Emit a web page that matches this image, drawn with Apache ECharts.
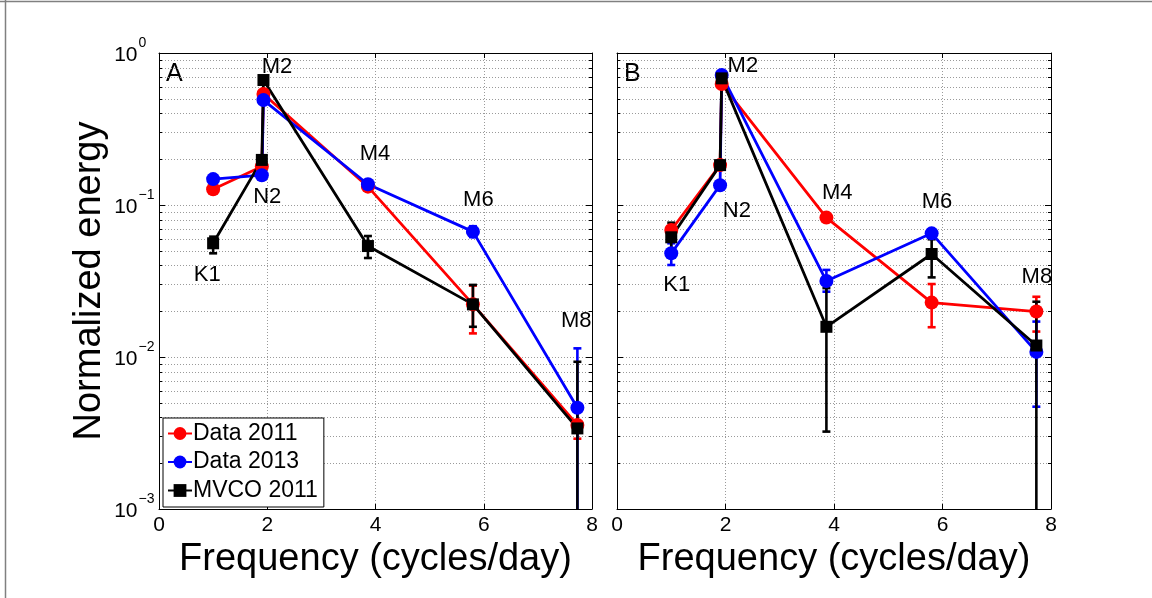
<!DOCTYPE html>
<html><head><meta charset="utf-8">
<script src="https://cdn.jsdelivr.net/npm/echarts@6/dist/echarts.min.js"></script>
<style>html,body{margin:0;padding:0;background:#fff}#c{width:1152px;height:598px}</style>
</head><body><div id="c"></div>
<script>
// ---------- data ----------
const constituents = ['K1', 'N2', 'M2', 'M4', 'M6', 'M8'];
const freq = [1.00, 1.90, 1.93, 3.86, 5.80, 7.73];
const xTicks = [0, 2, 4, 6, 8];
const yTicks = [0.001, 0.01, 0.1, 1];
const yTickExp = ['\u22123', '\u22122', '\u22121', '0'];
const seriesNames = ['Data 2011', 'Data 2013', 'MVCO 2011'];

// Panel A
const aData2011 = [0.127, 0.179, 0.537, 0.132, 0.0222, 0.00357];
const aData2011Lo = [0.121, 0.172, 0.515, 0.126, 0.0143, 0.0029];
const aData2011Hi = [0.133, 0.186, 0.560, 0.138, 0.0295, 0.0044];
const aData2013 = [0.148, 0.157, 0.490, 0.137, 0.0668, 0.00464];
const aData2013Lo = [0.142, 0.151, 0.470, 0.132, 0.0615, 0.0004];
const aData2013Hi = [0.154, 0.163, 0.510, 0.142, 0.0725, 0.0114];
const aMvco2011 = [0.056, 0.198, 0.664, 0.0537, 0.0222, 0.00339];
const aMvco2011Lo = [0.0481, 0.190, 0.640, 0.0448, 0.0158, 0.0004];
const aMvco2011Hi = [0.0619, 0.206, 0.690, 0.0625, 0.0298, 0.0093];

// Panel B
const bData2011 = [0.0685, 0.183, 0.625, 0.0826, 0.0228, 0.0199];
const bData2011Lo = [0.065, 0.176, 0.600, 0.079, 0.0157, 0.0147];
const bData2011Hi = [0.072, 0.190, 0.650, 0.086, 0.0302, 0.0249];
const bData2013 = [0.0481, 0.135, 0.717, 0.0316, 0.0651, 0.0108];
const bData2013Lo = [0.0403, 0.130, 0.690, 0.0269, 0.0610, 0.00471];
const bData2013Hi = [0.0560, 0.140, 0.740, 0.0374, 0.0690, 0.0171];
const bMvco2011 = [0.0613, 0.183, 0.681, 0.0158, 0.0476, 0.0119];
const bMvco2011Lo = [0.0457, 0.176, 0.660, 0.00323, 0.0334, 0.0004];
const bMvco2011Hi = [0.0765, 0.190, 0.700, 0.0284, 0.0595, 0.0231];

// constituent label positions [freq, energy] per panel
const aLabelX = [0.89, 2.00, 2.18, 3.99, 5.90, 7.71];
const aLabelY = [0.0346, 0.113, 0.81, 0.217, 0.108, 0.01725];
const bLabelX = [1.10, 2.21, 2.32, 4.06, 5.90, 7.74];
const bLabelY = [0.0298, 0.0912, 0.82, 0.120, 0.1047, 0.0336];

// ---------- styling ----------
const Y_MIN = 0.001, Y_MAX = 1;
const colors = ['#ff0000', '#0000ff', '#000000'];
const symbols = ['circle', 'circle', 'rect'];
const symbolSizes = [14, 14, 12];
const FONT = '"Liberation Sans", Arial, Helvetica, sans-serif';
const minorVals = [];
for (let k = -3; k < 0; k++) for (let m = 2; m <= 9; m++) minorVals.push(m * Math.pow(10, k));

function pair(xs, ys) { return xs.map((x, i) => [x, ys[i]]); }
function triple(xs, lo, hi) { return xs.map((x, i) => [x, lo[i], hi[i]]); }

function errRender(color) {
  return function (params, api) {
    const x = api.value(0), lo = api.value(1), hi = api.value(2);
    const pHi = api.coord([x, hi]);
    const pLo = api.coord([x, Math.max(lo, Y_MIN)]);
    const cw = 4;
    const st = { stroke: color, lineWidth: 2.6 };
    const ch = [
      { type: 'line', shape: { x1: pHi[0], y1: pHi[1], x2: pLo[0], y2: pLo[1] }, style: st },
      { type: 'line', shape: { x1: pHi[0] - cw, y1: pHi[1], x2: pHi[0] + cw, y2: pHi[1] }, style: st }
    ];
    if (lo >= Y_MIN) ch.push({ type: 'line', shape: { x1: pLo[0] - cw, y1: pLo[1], x2: pLo[0] + cw, y2: pLo[1] }, style: st });
    return { type: 'group', children: ch };
  };
}

function minorRender(params, api) {
  const cs = params.coordSys;
  const y = Math.round(api.coord([0, api.value(1)])[1]) + 0.5;
  return { type: 'group', children: [
    { type: 'line', shape: { x1: cs.x, y1: y, x2: cs.x + cs.width, y2: y }, style: { stroke: '#9a9a9a', lineWidth: 1, lineDash: [1, 2] } },
    { type: 'line', shape: { x1: cs.x, y1: y, x2: cs.x + 3, y2: y }, style: { stroke: '#000', lineWidth: 1 } },
    { type: 'line', shape: { x1: cs.x + cs.width - 3, y1: y, x2: cs.x + cs.width, y2: y }, style: { stroke: '#000', lineWidth: 1 } }
  ] };
}

function panelSeries(xi, yi, vals, los, his) {
  const out = [];
  out.push({
    type: 'custom', xAxisIndex: xi, yAxisIndex: yi, silent: true, z: 1,
    renderItem: minorRender, data: minorVals.map(v => [0, v]), clip: false
  });
  for (let s = 0; s < 3; s++) {
    out.push({
      type: 'custom', xAxisIndex: xi, yAxisIndex: yi, silent: true,
      renderItem: errRender(colors[s]), data: triple(freq, los[s], his[s]), clip: true,
      encode: { x: 0, y: [1, 2] }
    });
    out.push({
      type: 'line', name: seriesNames[s], xAxisIndex: xi, yAxisIndex: yi,
      data: pair(freq, vals[s]), symbol: symbols[s], symbolSize: symbolSizes[s],
      itemStyle: { color: colors[s] }, lineStyle: { color: colors[s], width: 2.8 },
      showSymbol: true, animation: false
    });
  }
  return out;
}

function xAx(gi, pos, showLabel, name) {
  return {
    type: 'value', gridIndex: gi, position: pos, min: 0, max: 8, interval: 2,
    axisLine: { show: true, onZero: false, lineStyle: { color: '#000', width: 1 } },
    axisTick: { show: true, inside: true, length: 5, lineStyle: { color: '#000' } },
    axisLabel: { show: showLabel, color: '#000', fontSize: 21, fontFamily: FONT, margin: 6 },
    splitLine: { show: pos === 'bottom', lineStyle: { color: '#9a9a9a', type: [1, 2] } },
    name: name || '', nameLocation: 'middle', nameGap: 25,
    nameTextStyle: { color: '#000', fontSize: 38, fontFamily: FONT }
  };
}
function yAx(gi, pos, name) {
  return {
    type: 'log', logBase: 10, gridIndex: gi, position: pos, min: Y_MIN, max: Y_MAX,
    axisLine: { show: true, onZero: false, lineStyle: { color: '#000', width: 1 } },
    axisTick: { show: true, inside: true, length: 6, lineStyle: { color: '#000' } },
    axisLabel: { show: false },
    splitLine: { show: pos === 'left', lineStyle: { color: '#9a9a9a', type: [1, 2] } },
    name: name || '', nameLocation: 'middle', nameGap: 50, nameRotate: 90,
    nameTextStyle: { color: '#000', fontSize: 38, fontFamily: FONT }
  };
}

const option = {
  animation: false,
  backgroundColor: '#fff',
  grid: [
    { left: 159, top: 53, width: 433, height: 456 },
    { left: 617, top: 53, width: 434, height: 456 }
  ],
  xAxis: [
    xAx(0, 'bottom', true, 'Frequency (cycles/day)'), xAx(0, 'top', false),
    xAx(1, 'bottom', true, 'Frequency (cycles/day)'), xAx(1, 'top', false)
  ],
  yAxis: [
    yAx(0, 'left', 'Normalized energy'), yAx(0, 'right'),
    yAx(1, 'left'), yAx(1, 'right')
  ],
  legend: {
    data: seriesNames, orient: 'vertical', left: 163, top: 418,
    itemWidth: 24, itemHeight: 16, itemGap: 5.5,
    padding: [4, 6, 5, 4], borderColor: '#000', borderWidth: 1, backgroundColor: '#fff',
    textStyle: { color: '#000', fontSize: 23, fontFamily: FONT, padding: [0, 0, 0, -4] },
    selectedMode: false
  },
  graphic: [
    { type: 'line', shape: { x1: 0, y1: 1.5, x2: 1152, y2: 1.5 }, style: { stroke: '#808080', lineWidth: 1.5 } },
    { type: 'line', shape: { x1: 5.5, y1: 0, x2: 5.5, y2: 598 }, style: { stroke: '#808080', lineWidth: 1.5 } },
    { type: 'text', left: 166, top: 62, style: { text: 'A', fontSize: 25, fontFamily: FONT, fill: '#000' } },
    { type: 'text', left: 624, top: 62, style: { text: 'B', fontSize: 25, fontFamily: FONT, fill: '#000' } }
  ],
  series: [].concat(
    panelSeries(0, 0,
      [aData2011, aData2013, aMvco2011],
      [aData2011Lo, aData2013Lo, aMvco2011Lo],
      [aData2011Hi, aData2013Hi, aMvco2011Hi]),
    panelSeries(2, 2,
      [bData2011, bData2013, bMvco2011],
      [bData2011Lo, bData2013Lo, bMvco2011Lo],
      [bData2011Hi, bData2013Hi, bMvco2011Hi])
  )
};
const chart = echarts.init(document.getElementById('c'), null, { renderer: 'canvas' });
chart.setOption(option);

const extra = [];
// y tick labels "10" with superscript exponent, placed through the axis scale
yTicks.forEach((v, i) => {
  const py = chart.convertToPixel({ yAxisIndex: 0 }, v);
  extra.push({ type: 'text', x: 137.5, y: py + 2, style: { text: '10', fontSize: 21, fontFamily: FONT, fill: '#000', align: 'right', verticalAlign: 'middle' } });
  extra.push({ type: 'text', x: 138.5, y: py - 10, style: { text: yTickExp[i], fontSize: 14, fontFamily: FONT, fill: '#000', align: 'left', verticalAlign: 'middle' } });
});
// constituent annotations, placed through each panel's axes
[[0, aLabelX, aLabelY], [2, bLabelX, bLabelY]].forEach(([ai, lx, ly]) => {
  constituents.forEach((c, i) => {
    const p = chart.convertToPixel({ xAxisIndex: ai, yAxisIndex: ai }, [lx[i], ly[i]]);
    extra.push({ type: 'text', x: p[0], y: p[1], z: 10, style: { text: c, fontSize: 22, fontFamily: FONT, fill: '#000', align: 'center', verticalAlign: 'middle' } });
  });
});
chart.setOption({ graphic: option.graphic.concat(extra) });
</script>
</body></html>
